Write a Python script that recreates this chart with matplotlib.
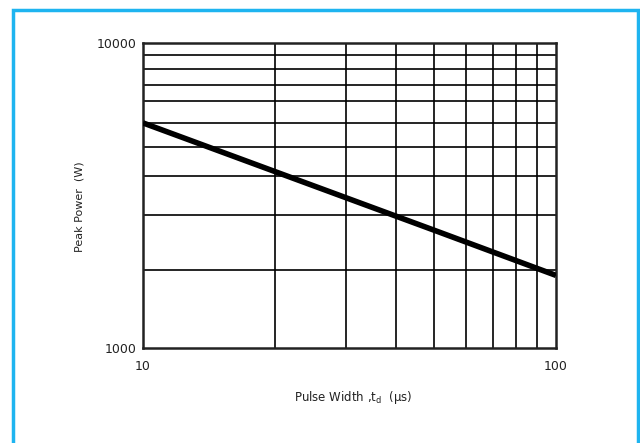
import matplotlib
matplotlib.use('Agg')
import matplotlib.pyplot as plt
from matplotlib.patches import Rectangle
from matplotlib.ticker import FixedLocator, NullFormatter

# curve
pulse_width = [10, 20, 50, 100]
peak_power = [5470, 3870, 2450, 1730]

x_ticks = [10, 100]
x_tick_labels = ['10', '100']
y_ticks = [1000, 10000]
y_tick_labels = ['1000', '10000']

# grid lines as drawn on the original sheet (not exactly at 2..9 decades)
x_grid = [20.9, 31, 41, 50.7, 60.5, 70.3, 80, 90]
y_grid = [1803, 2729, 3664, 4560, 5470, 6457, 7278, 8222, 9141]

plt.rcParams['font.family'] = ['DejaVu Sans']

fig = plt.figure(figsize=(6.4, 4.43), dpi=100)
ax = fig.add_axes([143/640, 1 - 348/443, (556 - 143)/640, (348 - 43)/443])

ax.plot(pulse_width, peak_power, color='black', linewidth=4, solid_capstyle='butt', zorder=3)

ax.set_xscale('log')
ax.set_yscale('log')
ax.set_xlim(10, 100)
ax.set_ylim(1000, 10000)

ax.xaxis.set_major_locator(FixedLocator(x_ticks))
ax.yaxis.set_major_locator(FixedLocator(y_ticks))
ax.xaxis.set_minor_locator(FixedLocator(x_grid))
ax.yaxis.set_minor_locator(FixedLocator(y_grid))
ax.set_xticklabels(x_tick_labels)
ax.set_yticklabels(y_tick_labels)
ax.xaxis.set_minor_formatter(NullFormatter())
ax.yaxis.set_minor_formatter(NullFormatter())
ax.tick_params(which='both', length=0)
ax.tick_params(axis='x', pad=9, labelsize=9, labelcolor='#222222')
ax.tick_params(axis='y', pad=5, labelsize=9, labelcolor='#222222')

ax.grid(True, which='minor', color='black', linewidth=1.2)
for s in ax.spines.values():
    s.set_linewidth(1.8)
    s.set_color('#222222')

fig.text(80/640, 1 - 207/443, 'Peak Power  (W)', rotation=90, ha='center', va='center',
         fontsize=8, color='#222222')
fig.text(353/640, 1 - 397/443, 'Pulse Width ,t$_\\mathrm{d}$  (µs)', ha='center', va='center',
         fontsize=8.5, color='#222222')

# light blue frame (open at the bottom)
frame = Rectangle((13/640, -0.05), (638 - 13)/640, 1.05 - 10/443, transform=fig.transFigure,
                  fill=False, edgecolor='#1EB4F0', linewidth=2.5, clip_on=False)
fig.patches.append(frame)

fig.savefig('out.png', dpi=100)
